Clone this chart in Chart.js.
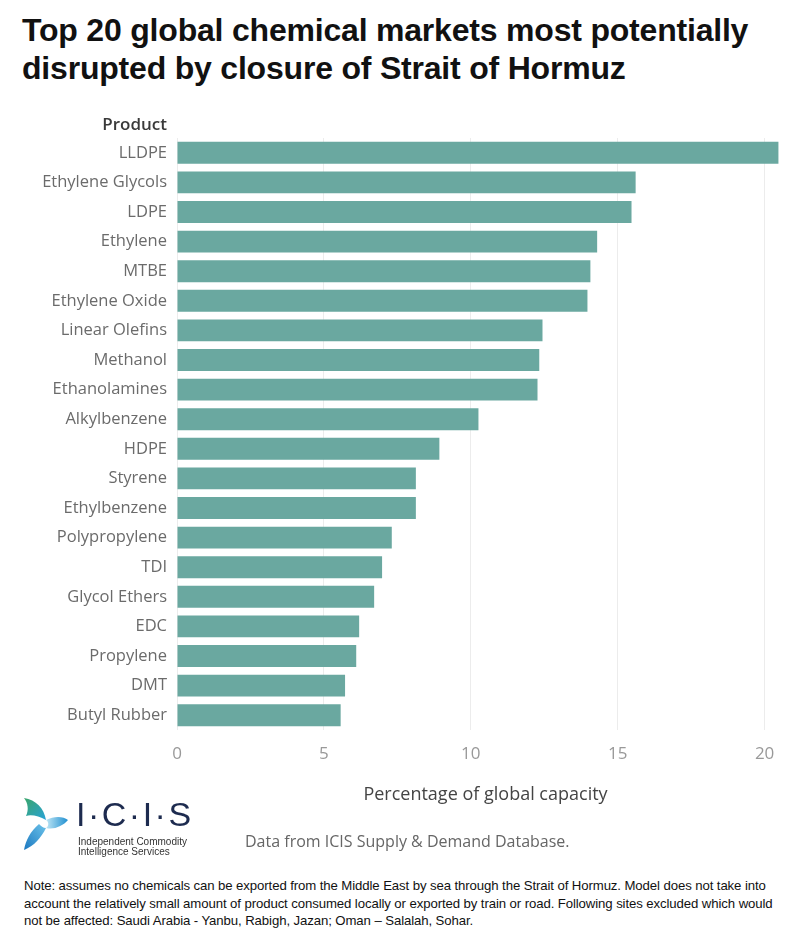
<!DOCTYPE html>
<html>
<head>
<meta charset="utf-8">
<script src="https://cdn.jsdelivr.net/npm/chart.js@4"></script>
<style>
  html, body { margin:0; padding:0; background:#fff; }
  body { width:800px; height:943px; position:relative; overflow:hidden; font-family:"Liberation Sans", Arial, sans-serif; }
  #title { position:absolute; left:22px; top:11px; font-family:"Liberation Sans", Arial, sans-serif; font-weight:bold; font-size:32px; line-height:38px; color:#111; letter-spacing:-0.2px; }
  #chartWrap { position:absolute; left:0; top:0; width:800px; height:810px; }
  #prodLabel { position:absolute; right:633px; top:112px; font-family:"Open Sans", sans-serif; font-size:17px; font-weight:600; color:#3a3a3a; }
  #source { position:absolute; left:245px; top:830px; font-family:"Open Sans", sans-serif; font-size:16px; color:#666; }
  #note { position:absolute; left:24px; top:877px; width:780px; white-space:nowrap; font-family:"Liberation Sans", Arial, sans-serif; font-size:13.2px; line-height:17.5px; color:#111; letter-spacing:-0.1px; }
  #logo { position:absolute; left:18px; top:794px; width:180px; height:60px; }
  #logoText { position:absolute; left:58px; top:1px; font-family:"Liberation Sans", Arial, sans-serif; font-size:34px; font-weight:normal; color:#1d2b4f; letter-spacing:2.5px; }
  #logoSub { position:absolute; left:60px; top:43px; font-family:"Liberation Sans", Arial, sans-serif; font-size:10px; line-height:10px; color:#333; }
</style>
</head>
<body>
<div id="title">Top 20 global chemical markets most potentially<br>disrupted by closure of Strait of Hormuz</div>
<div id="chartWrap"><canvas id="c" width="800" height="810"></canvas></div>
<div id="prodLabel">Product</div>
<div id="logo">
  <svg width="56" height="60" viewBox="0 0 56 60" style="position:absolute;left:0;top:0">
    <defs>
      <linearGradient id="g1" x1="0" y1="0" x2="1" y2="1">
        <stop offset="0" stop-color="#3aa56a"/><stop offset="1" stop-color="#29a3d8"/>
      </linearGradient>
      <linearGradient id="g2" x1="0" y1="0" x2="1" y2="0">
        <stop offset="0" stop-color="#bfe6f5"/><stop offset="1" stop-color="#1f8fd0"/>
      </linearGradient>
      <linearGradient id="g3" x1="1" y1="0" x2="0" y2="1">
        <stop offset="0" stop-color="#6cc3ea"/><stop offset="1" stop-color="#1b78c0"/>
      </linearGradient>
    </defs>
    <path d="M6 4 C18 6 26 14 28 26 C21 22 13 20 8 22 C11 16 10 9 6 4 Z" fill="url(#g1)"/>
    <path d="M28 26 C36 22 45 22 50 26 C45 32 36 36 28 34 C31 32 31 28 28 26 Z" fill="url(#g2)"/>
    <path d="M28 34 C23 44 16 52 6 56 C8 46 12 38 21 30 C23 32 25 34 28 34 Z" fill="url(#g3)"/>
  </svg>
  <div id="logoText">I·C·I·S</div>
  <div id="logoSub">Independent Commodity<br>Intelligence Services</div>
</div>
<div id="source">Data from ICIS Supply &amp; Demand Database.</div>
<div id="note">Note: assumes no chemicals can be exported from the Middle East by sea through the Strait of Hormuz. Model does not take into<br>account the relatively small amount of product consumed locally or exported by train or road. Following sites excluded which would<br>not be affected: Saudi Arabia - Yanbu, Rabigh, Jazan; Oman – Salalah, Sohar.</div>
<script>
const products = ["LLDPE","Ethylene Glycols","LDPE","Ethylene","MTBE","Ethylene Oxide","Linear Olefins","Methanol","Ethanolamines","Alkylbenzene","HDPE","Styrene","Ethylbenzene","Polypropylene","TDI","Glycol Ethers","EDC","Propylene","DMT","Butyl Rubber"];
const capacityShare = [20.47,15.61,15.47,14.3,14.07,13.97,12.44,12.33,12.27,10.26,8.93,8.13,8.13,7.31,6.98,6.71,6.2,6.1,5.72,5.57];
const xTicks = [0,5,10,15,20];

new Chart(document.getElementById('c'), {
  type: 'bar',
  data: {
    labels: products,
    datasets: [{
      data: capacityShare,
      backgroundColor: '#6aa8a0',
      borderWidth: 0,
      barPercentage: 0.74,
      categoryPercentage: 1.0
    }]
  },
  options: {
    indexAxis: 'y',
    responsive: false,
    animation: false,
    events: [],
    layout: { padding: { top: 138, right: 6, left: 0, bottom: 0 } },
    plugins: { legend: { display: false }, tooltip: { enabled: false } },
    scales: {
      x: {
        min: 0, max: 21,
        afterBuildTicks: (axis) => { axis.ticks = xTicks.map(v => ({ value: v })); },
        grid: { color: '#ececec', lineWidth: 1, drawTicks: false },
        border: { display: false },
        ticks: { color: '#999', padding: 14, font: { family: 'Open Sans', size: 17 } },
        title: { display: true, text: 'Percentage of global capacity', color: '#444', padding: { top: 8 }, font: { family: 'Open Sans', size: 18 } },
        afterFit: (axis) => { axis.height = 80; }
      },
      y: {
        grid: { display: false, drawTicks: false },
        border: { display: false },
        ticks: { color: '#6b6b6b', padding: 10, font: { family: 'Open Sans', size: 16.5 } },
        afterFit: (axis) => { axis.width = 177; }
      }
    }
  }
});
</script>
</body>
</html>
